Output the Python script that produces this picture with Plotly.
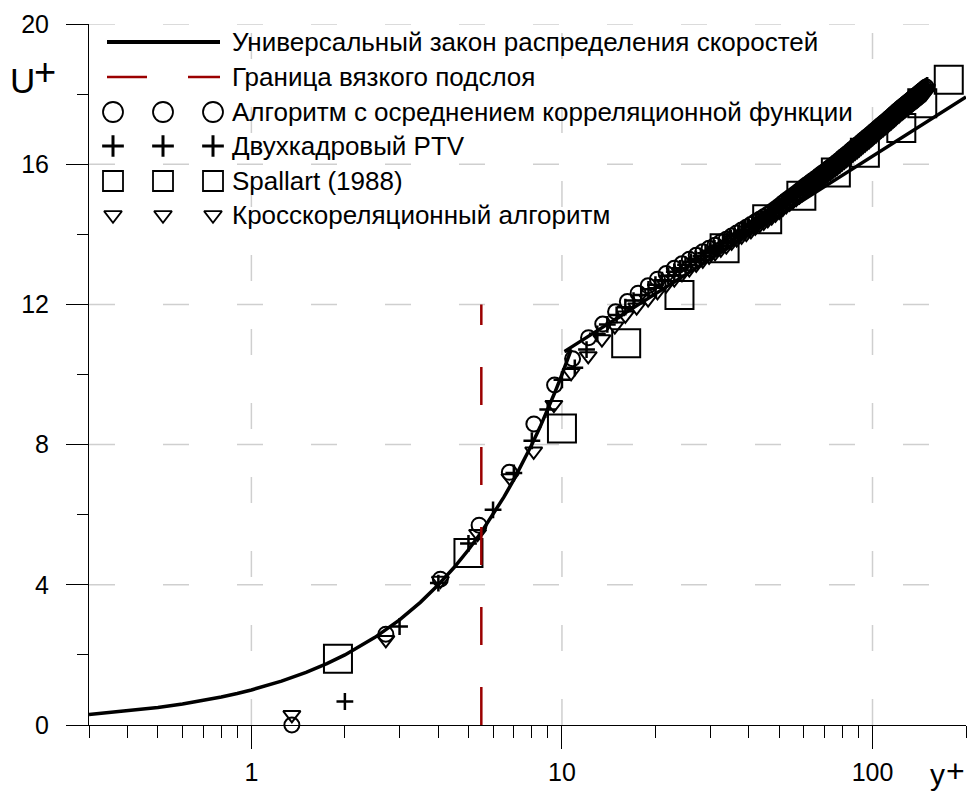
import plotly.graph_objects as go

# ---------------- data ----------------
# Universal velocity law (viscous part U+=y+, then log law)
law_x = [0.3, 0.4, 0.5, 0.6, 0.7, 0.8, 0.9, 1.0, 1.25, 1.5, 1.75, 2.0, 2.5, 3.0, 3.5, 4.0,
         4.5, 5.0, 5.5, 6.0, 6.5, 7.0, 7.5, 8.0, 8.5, 9.0, 9.5, 10.0, 10.7, 10.2, 200]
law_u = [0.3, 0.4, 0.5, 0.6, 0.7, 0.8, 0.9, 1.0, 1.25, 1.5, 1.75, 2.0, 2.5, 3.0, 3.5, 4.0,
         4.5, 5.0, 5.5, 6.0, 6.5, 7.0, 7.5, 8.0, 8.5, 9.0, 9.5, 10.0, 10.7, 10.66, 17.92]

# Viscous sublayer boundary
visc_x = [5.5, 5.5]
visc_u = [0, 12]

# Algorithm with correlation-function averaging (circles)
circ_x = [1.35, 2.71, 4.06, 5.41, 6.77, 8.12, 9.47, 10.82, 12.18, 13.53,
          14.88, 16.24, 17.59, 18.94, 20.3, 21.65, 23.0, 24.35, 25.71, 27.06,
          28.41, 29.77, 31.12, 32.47, 33.83, 35.18, 36.53, 37.88, 39.24, 40.59,
          41.94, 43.3, 44.65, 46.0, 47.36, 48.71, 50.06, 51.41, 52.77, 54.12,
          55.47, 56.83, 58.18, 59.53, 60.89, 62.24, 63.59, 64.94, 66.3, 67.65,
          69.0, 70.36, 71.71, 73.06, 74.42, 75.77, 77.12, 78.47, 79.83, 81.18,
          82.53, 83.89, 85.24, 86.59, 87.95, 89.3, 90.65, 92.0, 93.36, 94.71,
          96.06, 97.42, 98.77, 100.12, 101.48, 102.83, 104.18, 105.53, 106.89, 108.24,
          109.59, 110.95, 112.3, 113.65, 115.01, 116.36, 117.71, 119.06, 120.42, 121.77,
          123.12, 124.48, 125.83, 127.18, 128.54, 129.89, 131.24, 132.59, 133.95, 135.3,
          136.65, 138.01, 139.36, 140.71, 142.07, 143.42, 144.77, 146.12, 147.48, 148.83]
circ_u = [0.0, 2.59, 4.16, 5.7, 7.21, 8.59, 9.7, 10.45, 11.05, 11.44,
          11.79, 12.08, 12.32, 12.53, 12.72, 12.88, 13.03, 13.16, 13.29, 13.4,
          13.5, 13.6, 13.69, 13.78, 13.86, 13.95, 14.04, 14.12, 14.2, 14.28,
          14.36, 14.43, 14.5, 14.57, 14.65, 14.73, 14.81, 14.89, 14.97, 15.04,
          15.11, 15.18, 15.25, 15.32, 15.39, 15.45, 15.51, 15.57, 15.63, 15.69,
          15.75, 15.8, 15.86, 15.91, 15.97, 16.02, 16.08, 16.13, 16.19, 16.24,
          16.29, 16.34, 16.4, 16.45, 16.5, 16.54, 16.59, 16.64, 16.69, 16.73,
          16.78, 16.82, 16.87, 16.91, 16.96, 17.0, 17.05, 17.09, 17.13, 17.17,
          17.21, 17.25, 17.29, 17.33, 17.37, 17.41, 17.45, 17.49, 17.53, 17.56,
          17.6, 17.64, 17.67, 17.7, 17.74, 17.77, 17.8, 17.83, 17.87, 17.9,
          17.93, 17.96, 17.99, 18.02, 18.05, 18.08, 18.11, 18.14, 18.17, 18.2]

# Two-frame PTV (plus)
ptv_x = [1, 2, 3, 4, 5, 6, 7, 8, 9, 10, 11, 12, 13, 14, 15, 16, 17, 18, 19, 20,
         21, 22, 23, 24, 25, 26, 27, 28, 29, 30, 31, 32, 33, 34, 35, 36, 37, 38, 39, 40,
         41, 42, 43, 44, 45, 46, 47, 48, 49, 50, 51, 52, 53, 54, 55, 56, 57, 58, 59, 60,
         61, 62, 63, 64, 65, 66, 67, 68, 69, 70, 71, 72, 73, 74, 75, 76, 77, 78, 79, 80,
         81, 82, 83, 84, 85, 86, 87, 88, 89, 90, 91, 92, 93, 94, 95, 96, 97, 98, 99, 100,
         101, 102, 103, 104, 105, 106, 107, 108, 109, 110, 111, 112, 113, 114, 115, 116, 117,
         118, 119, 120, 121, 122, 123, 124, 125, 126, 127, 128, 129, 130, 131, 132, 133, 134,
         135, 136, 137, 138, 139, 140, 141, 142, 143, 144, 145, 146, 147, 148, 149, 150]
ptv_u = [-0.16, 0.67, 2.81, 4.05, 5.18, 6.14, 7.19, 8.11, 9.0, 9.85,
         10.19, 10.71, 11.16, 11.43, 11.7, 11.92, 12.11, 12.27, 12.43, 12.56,
         12.69, 12.82, 12.93, 13.03, 13.13, 13.22, 13.3, 13.38, 13.46, 13.53,
         13.6, 13.67, 13.74, 13.81, 13.88, 13.95, 14.01, 14.08, 14.14, 14.2,
         14.26, 14.32, 14.38, 14.44, 14.5, 14.56, 14.63, 14.69, 14.76, 14.83,
         14.9, 14.95, 15.01, 15.06, 15.11, 15.17, 15.22, 15.27, 15.32, 15.37,
         15.42, 15.46, 15.51, 15.56, 15.6, 15.65, 15.69, 15.74, 15.78, 15.82,
         15.86, 15.9, 15.94, 15.98, 16.02, 16.06, 16.1, 16.14, 16.18, 16.22,
         16.26, 16.3, 16.34, 16.38, 16.42, 16.45, 16.49, 16.53, 16.56, 16.6,
         16.63, 16.67, 16.7, 16.73, 16.77, 16.8, 16.83, 16.87, 16.9, 16.93,
         16.97, 17.0, 17.03, 17.07, 17.1, 17.13, 17.16, 17.19, 17.22, 17.25,
         17.28, 17.31, 17.34, 17.37, 17.4, 17.43, 17.46, 17.49, 17.51, 17.54,
         17.57, 17.6, 17.63, 17.65, 17.68, 17.7, 17.73, 17.75, 17.78, 17.8,
         17.83, 17.85, 17.87, 17.9, 17.92, 17.94, 17.97, 17.99, 18.01, 18.04,
         18.06, 18.08, 18.11, 18.13, 18.15, 18.17, 18.19, 18.21, 18.23, 18.25]

# Spallart (1988) (squares)
spal_x = [1.9, 5.0, 10.0, 16.1, 23.9, 33.4, 45.8, 59.0, 76.2, 94.5, 123.8, 144.6, 176]
spal_u = [1.89, 4.91, 8.46, 10.89, 12.27, 13.6, 14.43, 15.1, 15.76, 16.33, 17.03, 17.74, 18.41]

# Cross-correlation algorithm (triangles)
tri_x = [1.35, 2.71, 4.06, 5.35, 6.8, 8.11, 9.42, 10.7, 12.15, 13.45,
         14.8, 16.0, 17.4, 18.94, 20.3, 21.65, 23.0, 24.35, 25.71, 27.06,
         28.41, 29.77, 31.12, 32.47, 33.83, 35.18, 36.53, 37.88, 39.24, 40.59,
         41.94, 43.3, 44.65, 46.0, 47.36, 48.71, 50.06, 51.41, 52.77, 54.12,
         55.47, 56.83, 58.18, 59.53, 60.89, 62.24, 63.59, 64.94, 66.3, 67.65,
         69.0, 70.36, 71.71, 73.06, 74.42, 75.77, 77.12, 78.47, 79.83, 81.18,
         82.53, 83.89, 85.24, 86.59, 87.95, 89.3, 90.65, 92.0, 93.36, 94.71,
         96.06, 97.42, 98.77, 100.12, 101.48, 102.83, 104.18, 105.53, 106.89, 108.24,
         109.59, 110.95, 112.3, 113.65, 115.01, 116.36, 117.71, 119.06, 120.42, 121.77,
         123.12, 124.48, 125.83, 127.18, 128.54, 129.89, 131.24, 132.59, 133.95, 135.3,
         136.65, 138.01, 139.36, 140.71, 142.07, 143.42, 144.77, 146.12, 147.48, 148.83]
tri_u = [0.29, 2.43, 4.12, 5.46, 7.05, 7.81, 9.14, 10.05, 10.53, 11.01,
         11.38, 11.69, 11.92, 12.15, 12.36, 12.55, 12.72, 12.87, 13.01, 13.14,
         13.26, 13.37, 13.47, 13.57, 13.66, 13.77, 13.86, 13.94, 14.02, 14.1,
         14.2, 14.27, 14.34, 14.41, 14.49, 14.57, 14.65, 14.73, 14.81, 14.88,
         14.95, 15.02, 15.09, 15.16, 15.23, 15.29, 15.35, 15.41, 15.47, 15.53,
         15.59, 15.64, 15.7, 15.75, 15.81, 15.86, 15.92, 15.97, 16.03, 16.08,
         16.13, 16.18, 16.24, 16.29, 16.34, 16.38, 16.43, 16.48, 16.53, 16.57,
         16.62, 16.66, 16.71, 16.75, 16.8, 16.84, 16.89, 16.93, 16.97, 17.01,
         17.05, 17.09, 17.13, 17.17, 17.21, 17.25, 17.29, 17.33, 17.37, 17.4,
         17.44, 17.48, 17.51, 17.54, 17.58, 17.61, 17.64, 17.67, 17.71, 17.74,
         17.77, 17.8, 17.83, 17.86, 17.89, 17.92, 17.95, 17.98, 18.01, 18.04]

# axes ticks
x_tickvals = [1, 10, 100]
x_ticktext = ["1", "10", "100"]
x_minor = [0.3, 0.4, 0.5, 0.6, 0.7, 0.8, 0.9, 2, 3, 4, 5, 6, 7, 8, 9,
           20, 30, 40, 50, 60, 70, 80, 90, 200]
y_tickvals = [0, 4, 8, 12, 16, 20]
y_minor = [2, 6, 10, 14, 18]
x_grid = [1, 10, 100]
y_grid = [4, 8, 12, 16, 20]

legend_labels = [
    "Универсальный закон распределения скоростей",
    "Граница вязкого подслоя",
    "Алгоритм с осреднением корреляционной функции",
    "Двухкадровый PTV",
    "Spallart (1988)",
    "Кросскореляционный алгоритм",
]

# ---------------- layout geometry (pixels) ----------------
W, H = 970, 792
L, R, T, B = 89, 4, 24, 67
PW, PH = W - L - R, H - T - B
FONT = "Liberation Sans, Arial, sans-serif"
RED = "#9b0000"
GRID = "#cfcfcf"


def pxx(px):
    return (px - L) / PW


def pxy(py):
    return (H - B - py) / PH


fig = go.Figure()

# data markers
mk_common = dict(mode="markers", cliponaxis=False, showlegend=False, hoverinfo="skip")
fig.add_trace(go.Scatter(x=spal_x, y=spal_u, marker=dict(symbol="square-open", size=28, color="black",
                                                        line=dict(width=2, color="black")), **mk_common))
fig.add_trace(go.Scatter(x=tri_x, y=tri_u, marker=dict(symbol="triangle-down-open", size=15, color="black",
                                                      line=dict(width=2, color="black")), **mk_common))
fig.add_trace(go.Scatter(x=circ_x, y=circ_u, marker=dict(symbol="circle-open", size=15, color="black",
                                                        line=dict(width=2, color="black")), **mk_common))
fig.add_trace(go.Scatter(x=ptv_x, y=ptv_u, marker=dict(symbol="cross-thin-open", size=12, color="black",
                                                      line=dict(width=2.5, color="black")), **mk_common))
# lines
fig.add_trace(go.Scatter(x=law_x, y=law_u, mode="lines", line=dict(color="black", width=3.5),
                         showlegend=False, hoverinfo="skip"))
fig.add_trace(go.Scatter(x=visc_x, y=visc_u, mode="lines", line=dict(color=RED, width=2.5, dash="38px,42px"),
                         showlegend=False, hoverinfo="skip"))

# ---------------- custom legend on an overlay pixel axis ----------------
row_y = [42, 77, 112, 146, 181, 215]
sample_x0, sample_x1 = 107, 220
mark_x = [113, 163, 213]
text_x = 230

fig.add_trace(go.Scatter(x=[sample_x0, sample_x1], y=[row_y[0]] * 2, xaxis="x2", yaxis="y2", mode="lines",
                         line=dict(color="black", width=4), showlegend=False, hoverinfo="skip"))
fig.add_trace(go.Scatter(x=[sample_x0, sample_x1], y=[row_y[1]] * 2, xaxis="x2", yaxis="y2", mode="lines",
                         line=dict(color=RED, width=2.5, dash="40px,41px"), showlegend=False, hoverinfo="skip"))
leg_syms = [("circle-open", 20, 1.8), ("cross-thin-open", 15.5, 3),
            ("square-open", 20, 1.8), ("triangle-down-open", 15.5, 1.8)]
for (sym, sz, lw), yy in zip(leg_syms, row_y[2:]):
    fig.add_trace(go.Scatter(x=mark_x, y=[yy] * 3, xaxis="x2", yaxis="y2", mode="markers", cliponaxis=False,
                             marker=dict(symbol=sym, size=sz, color="black", line=dict(width=lw, color="black")),
                             showlegend=False, hoverinfo="skip"))

annotations = []
for lab, yy in zip(legend_labels, row_y):
    annotations.append(dict(text=lab, x=pxx(text_x), y=pxy(yy), xref="paper", yref="paper",
                            xanchor="left", yanchor="middle", showarrow=False,
                            font=dict(family=FONT, size=26, color="black")))
# axis titles
annotations.append(dict(text="U", x=pxx(22), y=pxy(80), xref="paper", yref="paper", xanchor="center",
                        yanchor="middle", showarrow=False, font=dict(family=FONT, size=35, color="black")))
annotations.append(dict(text="+", x=pxx(45), y=pxy(72), xref="paper", yref="paper", xanchor="center",
                        yanchor="middle", showarrow=False, font=dict(family=FONT, size=38, color="black")))
annotations.append(dict(text="y", x=pxx(937), y=pxy(792), xref="paper", yref="paper", xanchor="center",
                        yanchor="bottom", showarrow=False, borderpad=0,
                        font=dict(family=FONT, size=30, color="black")))
annotations.append(dict(text="+", x=pxx(955), y=pxy(790), xref="paper", yref="paper", xanchor="center",
                        yanchor="bottom", showarrow=False, borderpad=0,
                        font=dict(family=FONT, size=32, color="black")))

# grid lines as shapes (dash pattern starting from bottom / left)
shapes = []
for gx in x_grid:
    shapes.append(dict(type="line", xref="x", yref="paper", x0=gx, x1=gx, y0=0, y1=1, layer="below",
                       line=dict(color=GRID, width=1.5, dash="26px,48px")))
for gy in y_grid:
    shapes.append(dict(type="line", xref="paper", yref="y", x0=0, x1=1, y0=gy, y1=gy, layer="below",
                       line=dict(color=GRID, width=1.5, dash="26px,48px")))

fig.update_layout(
    width=W, height=H,
    margin=dict(l=L, r=R, t=T, b=B, pad=0),
    paper_bgcolor="white", plot_bgcolor="white",
    showlegend=False,
    font=dict(family=FONT, color="black"),
    xaxis=dict(type="log", range=[-0.5228787, 2.30103], showline=True, linecolor="black", linewidth=1,
               ticks="outside", ticklen=23, tickwidth=1, tickcolor="black",
               tickvals=x_tickvals, ticktext=x_ticktext, tickfont=dict(size=25, family=FONT),
               showgrid=False, zeroline=False, ticklabelstandoff=2, automargin=False,
               minor=dict(tickvals=x_minor, ticks="outside", ticklen=12, tickwidth=1, tickcolor="black",
                          showgrid=False)),
    yaxis=dict(range=[0, 20], showline=True, linecolor="black", linewidth=1,
               ticks="outside", ticklen=22, tickwidth=1, tickcolor="black",
               tickvals=y_tickvals, tickfont=dict(size=25, family=FONT),
               showgrid=False, zeroline=False, ticklabelstandoff=12, automargin=False,
               minor=dict(tickvals=y_minor, ticks="outside", ticklen=11, tickwidth=1, tickcolor="black",
                          showgrid=False)),
    xaxis2=dict(overlaying="x", anchor="y2", range=[L, W - R], visible=False, fixedrange=True),
    yaxis2=dict(overlaying="y", anchor="x2", range=[H - B, T], visible=False, fixedrange=True),
    annotations=annotations,
    shapes=shapes,
)

fig.write_html("out.html", config={"displayModeBar": False},
               post_script="document.body.style.margin='0px';document.body.style.overflow='hidden';")
